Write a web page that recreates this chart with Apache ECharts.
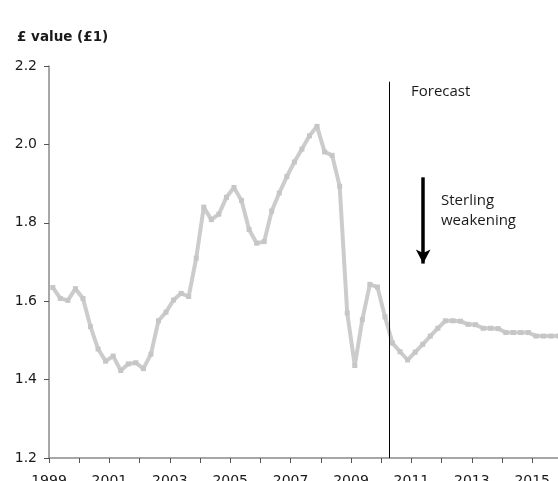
<!DOCTYPE html>
<html>
<head>
<meta charset="utf-8">
<script src="https://cdn.jsdelivr.net/npm/echarts@6/dist/echarts.min.js"></script>
<style>
  html, body { margin: 0; padding: 0; background: #fff; }
  #chart { width: 558px; height: 481px; }
</style>
</head>
<body>
<div id="chart"></div>
<script>
// Sterling value in US dollars, quarterly averages from 1999 Q1; forecast from 2010 Q2
const startYear = 1999;
const values = [
  1.635, 1.607, 1.602, 1.632,
  1.607, 1.535, 1.478, 1.447,
  1.460, 1.423, 1.440, 1.443,
  1.428, 1.465, 1.550, 1.572,
  1.603, 1.620, 1.612, 1.710,
  1.840, 1.808, 1.822, 1.865,
  1.890, 1.857, 1.783, 1.748,
  1.752, 1.830, 1.876, 1.918,
  1.955, 1.988, 2.022, 2.046,
  1.981, 1.972, 1.893, 1.570,
  1.436, 1.553, 1.643, 1.636,
  1.560, 1.493, 1.471, 1.450,
  1.470, 1.490, 1.511, 1.531,
  1.550, 1.550, 1.549, 1.541,
  1.540, 1.531, 1.531, 1.530,
  1.520, 1.520, 1.520, 1.520,
  1.511, 1.511, 1.511, 1.511
];
const yTicks = [1.2, 1.4, 1.6, 1.8, 2.0, 2.2];
const forecastStart = 2010.25;          // start of 2010 Q2
const arrowSpan = { x: 2011.39, from: 1.916, to: 1.696 };

// each quarter sits at the middle of its quarter-year span
const points = values.map((v, i) => [startYear + (i + 0.5) / 4, v]);

const textColor = '#1a1a1a';
const axisGrey = '#8a8a8a';

const chart = echarts.init(document.getElementById('chart'), null, { renderer: 'canvas' });
chart.setOption({
  animation: false,
  backgroundColor: '#ffffff',
  title: {
    text: '£ value (£1)',
    left: 12,
    top: 25,
    textStyle: { fontFamily: 'DejaVu Sans', fontSize: 13.5, fontWeight: 'bold', color: textColor }
  },
  grid: {
    left: 49, top: 66, bottom: 23, right: -4.4,
    containLabel: false,
    outerBoundsMode: 'none'
  },
  xAxis: {
    type: 'value',
    min: 1999,
    max: 2016,
    interval: 1,
    axisLine: { show: true, lineStyle: { color: axisGrey, width: 1.5 } },
    axisTick: { show: true, length: 5, lineStyle: { color: '#555', width: 1 } },
    splitLine: { show: false },
    axisLabel: {
      margin: 16,
      fontFamily: 'DejaVu Sans',
      fontSize: 14,
      color: textColor,
      formatter: v => (Math.round(v) % 2 === 1 ? String(Math.round(v)) : '')
    }
  },
  yAxis: {
    type: 'value',
    min: yTicks[0],
    max: yTicks[yTicks.length - 1],
    interval: 0.2,
    axisLine: { show: true, lineStyle: { color: axisGrey, width: 1.5 } },
    axisTick: { show: true, length: 5, lineStyle: { color: '#555', width: 1 } },
    splitLine: { show: false },
    axisLabel: {
      margin: 12,
      fontFamily: 'DejaVu Sans',
      fontSize: 14,
      color: textColor,
      formatter: v => v.toFixed(1)
    }
  },
  series: [{
    type: 'line',
    data: points,
    symbol: 'rect',
    symbolSize: 5,
    showSymbol: true,
    lineStyle: { color: '#cccccc', width: 4 },
    itemStyle: { color: '#c6c6c6' },
    z: 2,
    markLine: {
      silent: true,
      animation: false,
      label: { show: false },
      data: [
        [
          { coord: [forecastStart, 2.160], symbol: 'none', lineStyle: { color: '#000', width: 1, type: 'solid' } },
          { coord: [forecastStart, 1.2], symbol: 'none' }
        ],
        [
          { coord: [arrowSpan.x, arrowSpan.from], symbol: 'none', lineStyle: { color: '#000', width: 3.5, type: 'solid' } },
          { coord: [arrowSpan.x, arrowSpan.to], symbol: 'arrow', symbolSize: [11, 14] }
        ]
      ]
    }
  }],
  graphic: [
    {
      type: 'text', x: 411, y: 92,
      style: { text: 'Forecast', font: '15px "Open Sans"', fill: textColor, textVerticalAlign: 'middle' }
    },
    {
      type: 'text', x: 441, y: 201,
      style: { text: 'Sterling', font: '15px "Open Sans"', fill: textColor, textVerticalAlign: 'middle' }
    },
    {
      type: 'text', x: 441, y: 221,
      style: { text: 'weakening', font: '15px "Open Sans"', fill: textColor, textVerticalAlign: 'middle' }
    }
  ]
});
</script>
</body>
</html>
